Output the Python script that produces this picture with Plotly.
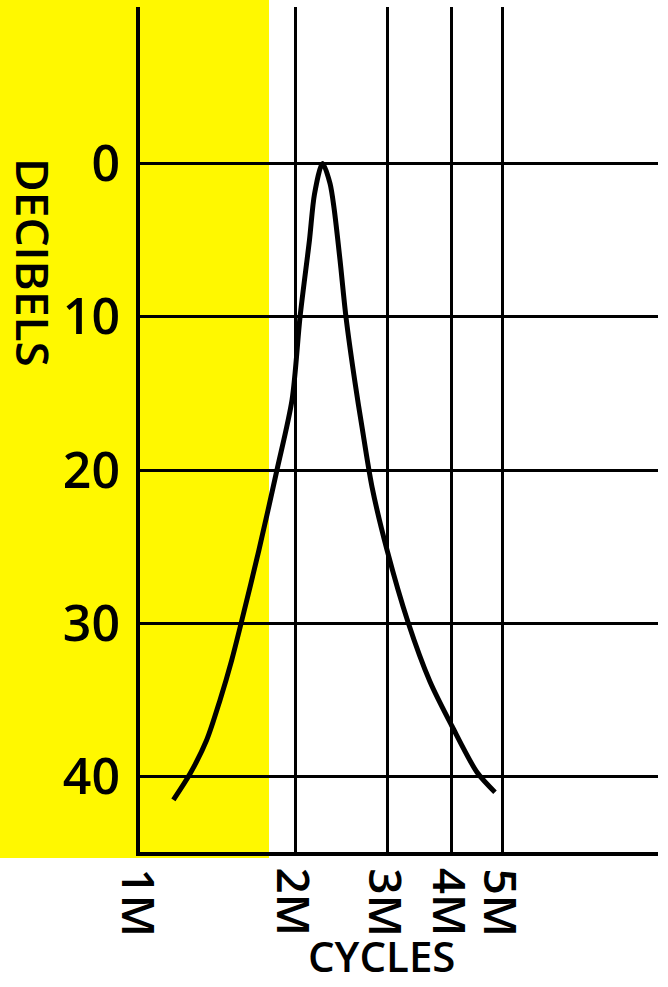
import numpy as np
import plotly.graph_objects as go

# ---- data ----
freq_mhz = [1.160, 1.249, 1.345, 1.427, 1.503, 1.567, 1.697, 1.838, 1.966, 2.037,
            2.124, 2.172, 2.251, 2.327, 2.369, 2.433, 2.498, 2.601, 2.683,
            2.805, 2.998, 3.291, 3.630, 4.003, 4.473, 4.845]
decibels = [41.5, 39.8, 37.6, 35.0, 32.4, 30.0, 25.2, 20.0, 15.4, 10.0,
            5.0, 2.0, 0.0, 1.3, 2.9, 6.3, 10.0, 14.3, 17.2,
            21.1, 25.2, 29.9, 33.8, 36.7, 39.7, 41.0]
x_tick_vals = [1, 2, 3, 4, 5]
x_tick_text = ["1M", "2M", "3M", "4M", "5M"]
y_tick_vals = [0, 10, 20, 30, 40]
y_tick_text = ["0", "10", "20", "30", "40"]
x_title = "CYCLES"
y_title = "DECIBELS"

FONT = "Open Sans, DejaVu Sans, sans-serif"
W, H = 668, 987
L, R, T, B = 140, 10, 7, 135
pw, ph = W - L - R, H - T - B
AXIS_Y = H - B

fig = go.Figure()
fig.add_trace(go.Scatter(
    x=[f * 1e6 for f in freq_mhz], y=decibels, mode="lines",
    line=dict(color="black", width=5, shape="spline", smoothing=0.8),
    hoverinfo="skip", showlegend=False))

# yellow panel (paper coordinates)
fig.add_shape(type="rect", xref="paper", yref="paper", layer="below",
              x0=-L / pw, x1=(269 - L) / pw,
              y0=-(858 - AXIS_Y) / ph, y1=(AXIS_Y + 10) / ph,
              fillcolor="#FFF800", line=dict(width=0))

# rotated x tick labels, end-aligned at the bottom
for v, t in zip(x_tick_vals, x_tick_text):
    fig.add_annotation(x=np.log10(v * 1e6), y=-(939 - AXIS_Y) / ph,
                       xref="x", yref="paper", text=t, textangle=90,
                       showarrow=False, xanchor="center", yanchor="bottom",
                       font=dict(family=FONT, size=46, color="black", weight=600))

fig.add_annotation(x=(381 - L) / pw, y=-(986 - AXIS_Y) / ph,
                   xref="paper", yref="paper", text=x_title, showarrow=False,
                   xanchor="center", yanchor="bottom",
                   font=dict(family=FONT, size=42, color="black", weight=600))
fig.add_annotation(x=(34 - L) / pw, y=(AXIS_Y - 262) / ph,
                   xref="paper", yref="paper", text=y_title, textangle=90,
                   showarrow=False, xanchor="center", yanchor="middle",
                   font=dict(family=FONT, size=46, color="black", weight=600))

fig.update_xaxes(type="log", range=[6, 7], tickvals=[v * 1e6 for v in x_tick_vals[1:]],
                 showticklabels=False, showgrid=True, gridcolor="black", gridwidth=3,
                 showline=True, linecolor="black", linewidth=4, ticks="",
                 zeroline=False, fixedrange=True)
fig.update_yaxes(range=[44.9, -10.2], tickvals=y_tick_vals, ticktext=y_tick_text,
                 showgrid=True, gridcolor="black", gridwidth=3,
                 showline=True, linecolor="black", linewidth=4, ticks="",
                 ticklabelstandoff=6, zeroline=False, fixedrange=True,
                 tickfont=dict(family=FONT, size=50, color="black", weight=600))

fig.update_layout(width=W, height=H, margin=dict(l=L, r=R, t=T, b=B),
                  paper_bgcolor="white", plot_bgcolor="rgba(0,0,0,0)",
                  showlegend=False)
fig.write_html("out.html", config={"displayModeBar": False},
               post_script="document.body.style.margin='0';document.body.style.padding='0';")
